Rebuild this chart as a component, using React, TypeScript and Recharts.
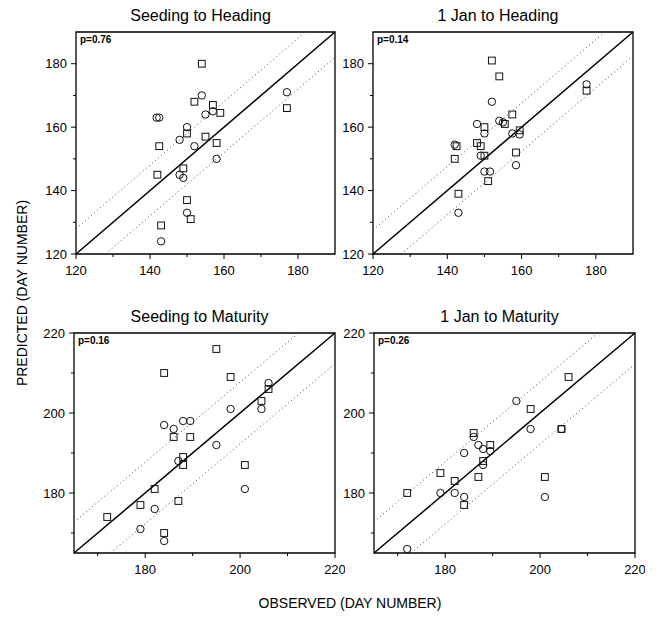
import { ScatterChart, Scatter, XAxis, YAxis, ReferenceLine, ReferenceArea } from "recharts";

// tick values
const headingTicks = [120, 130, 140, 150, 160, 170, 180];
const headingLabels = [120, 140, 160, 180];
const maturityTicks = [170, 180, 190, 200, 210, 220];
const maturityLabels = [180, 200, 220];

const titles = ["Seeding to Heading", "1 Jan to Heading", "Seeding to Maturity", "1 Jan to Maturity"];
const pValues = ["p=0.76", "p=0.14", "p=0.16", "p=0.26"];
// half-width of the dotted band around the 1:1 line
const bandWidths = [8, 7.6, 7.7, 7.8];

// [observed, predicted]
const sowHeadSquares = [
  [154, 180], [152, 168], [157, 167], [159, 164.5], [177, 166], [142.5, 154], [150, 158],
  [155, 157], [158, 155], [142, 145], [149, 147], [150, 137], [151, 131], [143, 129],
];
const sowHeadCircles = [
  [154, 170], [177, 171], [141.8, 163], [142.5, 163], [155, 164], [157, 165], [150, 160],
  [148, 156], [152, 154], [158, 150], [148, 145], [149, 144], [150, 133], [143, 124],
];
const janHeadSquares = [
  [152, 181], [154, 176], [177.5, 171.5], [157.5, 164], [155.5, 161], [150, 160], [159.5, 159],
  [142.5, 154], [148, 155], [149, 154], [150, 151], [142, 150], [158.5, 152], [151, 143], [143, 139],
];
const janHeadCircles = [
  [177.5, 173.5], [152, 168], [154, 162], [155, 161.5], [148, 161], [150, 158], [157.5, 158],
  [159.5, 157.7], [142, 154.5], [149, 151], [150, 146], [151.5, 146], [158.5, 148], [143, 133],
];
const sowMatSquares = [
  [195, 216], [184, 210], [198, 209], [206, 206], [204.5, 203], [186, 194], [189.5, 194], [188, 189],
  [188, 187], [201, 187], [182, 181], [179, 177], [187, 178], [172, 174], [184, 170],
];
const sowMatCircles = [
  [206, 207.5], [204.5, 201], [198, 201], [184, 197], [186, 196], [188, 198], [189.5, 198],
  [195, 192], [187, 188], [201, 181], [182, 176], [179, 171], [184, 168],
];
const janMatSquares = [
  [206, 209], [198, 201], [204.5, 196], [186, 195], [189.5, 192], [188, 188], [179, 185],
  [182, 183], [187, 184], [201, 184], [172, 180], [184, 177],
];
const janMatCircles = [
  [195, 203], [198, 196], [204.5, 196], [186, 194], [187, 192], [188, 191], [189.5, 190.5],
  [184, 190], [188, 187], [179, 180], [182, 180], [184, 179], [201, 179], [172, 166],
];

const toPoints = (pairs: number[][]) => pairs.map(([x, y]) => ({ x, y }));

const Square = (props: any) => {
  const { cx, cy } = props;
  if (cx == null || cy == null) return <g />;
  return <rect x={cx - 3.4} y={cy - 3.4} width={6.8} height={6.8} fill="none" stroke="#111" strokeWidth={1} />;
};

const Circle = (props: any) => {
  const { cx, cy } = props;
  if (cx == null || cy == null) return <g />;
  return <circle cx={cx} cy={cy} r={3.7} fill="none" stroke="#111" strokeWidth={1} />;
};

const XTick = (props: any) => {
  const { x, y, payload, labels } = props;
  const major = labels.includes(payload.value);
  return (
    <g>
      <line x1={x} x2={x} y1={y} y2={y + (major ? 5 : 3)} stroke="#000" />
      {major && (
        <text x={x} y={y + 21} textAnchor="middle" fontSize={13} fill="#000">
          {payload.value}
        </text>
      )}
    </g>
  );
};

const YTick = (props: any) => {
  const { x, y, payload, labels } = props;
  const major = labels.includes(payload.value);
  return (
    <g>
      <line x1={x} x2={x - (major ? 5 : 3)} y1={y} y2={y} stroke="#000" />
      {major && (
        <text x={x - 9} y={y + 4.5} textAnchor="end" fontSize={13} fill="#000">
          {payload.value}
        </text>
      )}
    </g>
  );
};

interface PanelProps {
  box: { x: number; y: number; w: number; h: number };
  title: string;
  p: string;
  squares: number[][];
  circles: number[][];
  domain: [number, number];
  ticks: number[];
  labels: number[];
  band: number;
}

const Panel = ({ box, title, p, squares, circles, domain, ticks, labels, band }: PanelProps) => {
  const [lo, hi] = domain;
  const W = box.w + 70;
  const H = box.h + 60;
  return (
    <div style={{ position: "absolute", left: box.x - 60, top: box.y - 30, width: W, height: H }}>
      <div
        style={{ position: "absolute", left: 55, top: 5, width: box.w, textAlign: "center", fontSize: 16, lineHeight: "18px" }}
      >
        {title}
      </div>
      <ScatterChart width={W} height={H} margin={{ top: 30, right: 10, bottom: 5, left: 10 }}>
        <XAxis
          type="number"
          dataKey="x"
          domain={domain}
          ticks={ticks}
          interval={0}
          tickSize={0}
          tickMargin={0}
          axisLine={false}
          tick={<XTick labels={labels} />}
          height={25}
          allowDataOverflow
        />
        <YAxis
          type="number"
          dataKey="y"
          domain={domain}
          ticks={ticks}
          interval={0}
          tickSize={0}
          tickMargin={0}
          axisLine={false}
          tick={<YTick labels={labels} />}
          width={50}
          allowDataOverflow
        />
        <ReferenceArea
          x1={lo}
          x2={hi}
          y1={lo}
          y2={hi}
          fill="none"
          fillOpacity={0}
          stroke="#000"
          strokeWidth={1.3}
          label={{ value: p, position: "insideTopLeft", offset: 4, fontSize: 10, fontWeight: "bold", fill: "#000" }}
        />
        <ReferenceLine segment={[{ x: lo, y: lo }, { x: hi, y: hi }]} stroke="#000" strokeWidth={1.5} />
        <ReferenceLine
          segment={[{ x: lo, y: lo + band }, { x: hi - band, y: hi }]}
          stroke="#444"
          strokeDasharray="1 3"
        />
        <ReferenceLine
          segment={[{ x: lo + band, y: lo }, { x: hi, y: hi - band }]}
          stroke="#444"
          strokeDasharray="1 3"
        />
        <Scatter data={toPoints(squares)} shape={Square} isAnimationActive={false} />
        <Scatter data={toPoints(circles)} shape={Circle} isAnimationActive={false} />
      </ScatterChart>
    </div>
  );
};

export default function App() {
  const boxes = [
    { x: 76, y: 32, w: 259, h: 222 },
    { x: 373, y: 32, w: 260, h: 222 },
    { x: 74, y: 333, w: 261, h: 220 },
    { x: 374, y: 333, w: 261, h: 220 },
  ];
  const squares = [sowHeadSquares, janHeadSquares, sowMatSquares, janMatSquares];
  const circles = [sowHeadCircles, janHeadCircles, sowMatCircles, janMatCircles];

  return (
    <div
      style={{
        position: "absolute",
        left: 0,
        top: 0,
        width: 658,
        height: 620,
        background: "#fff",
        color: "#000",
        fontFamily: "'Liberation Sans', Arial, sans-serif",
      }}
    >
      {boxes.map((box, i) => (
        <Panel
          key={i}
          box={box}
          title={titles[i]}
          p={pValues[i]}
          squares={squares[i]}
          circles={circles[i]}
          domain={i < 2 ? [120, 190] : [165, 220]}
          ticks={i < 2 ? headingTicks : maturityTicks}
          labels={i < 2 ? headingLabels : maturityLabels}
          band={bandWidths[i]}
        />
      ))}
      <div
        style={{
          position: "absolute",
          left: 22 - 120,
          top: 293 - 9,
          width: 240,
          textAlign: "center",
          fontSize: 14,
          lineHeight: "18px",
          transform: "rotate(-90deg)",
        }}
      >
        PREDICTED (DAY NUMBER)
      </div>
      <div
        style={{ position: "absolute", left: 350 - 150, top: 594, width: 300, textAlign: "center", fontSize: 14, lineHeight: "18px" }}
      >
        OBSERVED (DAY NUMBER)
      </div>
    </div>
  );
}
